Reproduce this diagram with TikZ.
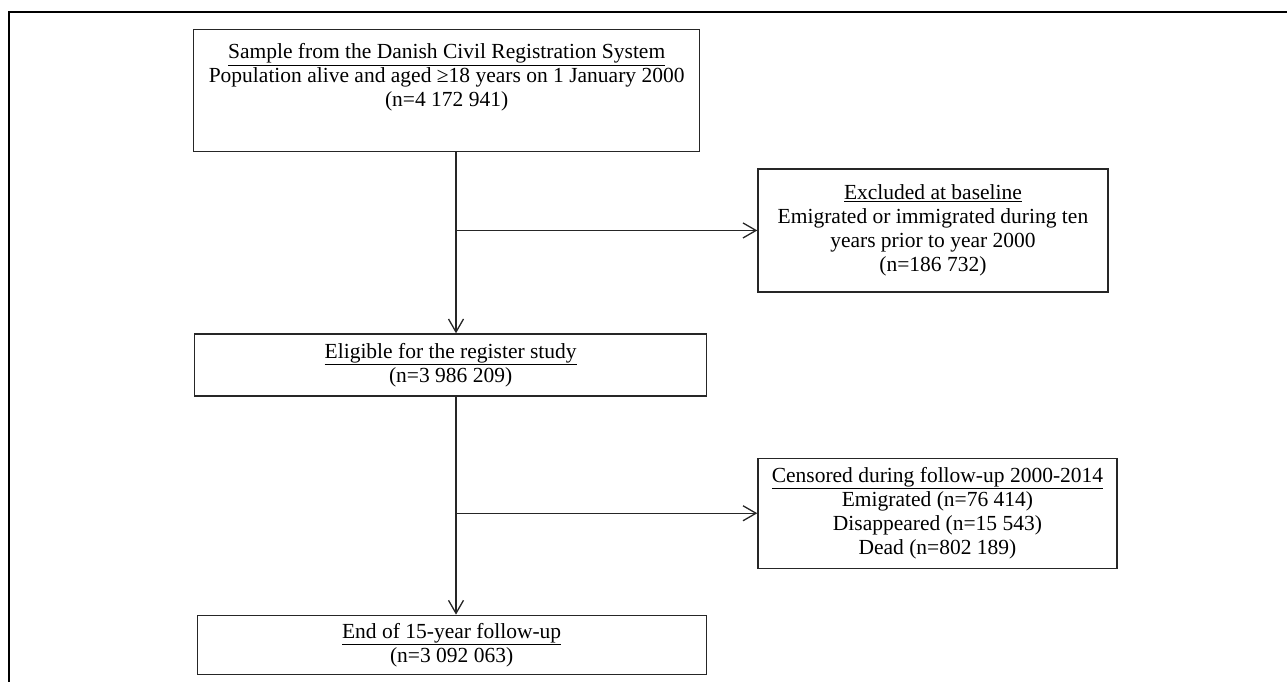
\documentclass[tikz,border=0pt]{standalone}
\usepackage{fontspec}
\setmainfont{Liberation Serif}
\usetikzlibrary{positioning, arrows.meta}
\tikzset{
    box/.style={draw=black!85, line width=1.3pt, rectangle, align=center,
        inner sep=0pt, font=\fontsize{21.5}{24}\selectfont},
    flow/.style={draw=black!85, line width=1.3pt,
        -{Straight Barb[length=13pt,width=15pt]}},
    frame/.style={draw=black, line width=2pt},
}

\begin{document}
\begin{tikzpicture}[x=1pt, y=-1pt]
    \useasboundingbox (0,0) rectangle (1287,682);
    \draw[frame] (9,12) rectangle (1300,700);

    \node[box, anchor=north west, minimum width=506pt, minimum height=122pt] (sample) at (193,29)
        {\parbox[c][94pt][t]{490pt}{\centering
        \underline{Sample from the Danish Civil Registration System}\\
        Population alive and aged ≥18 years on 1 January 2000\\
        (n=4 172 941)}};
    \node[box, below right=16pt and 57pt of sample, minimum width=350pt, minimum height=123pt] (excluded)
        {\underline{Excluded at baseline}\\
        Emigrated or immigrated during ten\\
        years prior to year 2000\\
        (n=186 732)};
    \node[box, below=181pt of sample, xshift=4pt, minimum width=512pt, minimum height=62pt] (eligible)
        {\underline{Eligible for the register study}\\
        (n=3 986 209)};
    \node[box, below right=61pt and 50pt of eligible, minimum width=359pt, minimum height=110pt] (censored)
        {\underline{Censored during follow-up 2000-2014}\\
        Emigrated (n=76 414)\\
        Disappeared (n=15 543)\\
        Dead (n=802 189)};
    \node[box, below=218pt of eligible, xshift=1pt, minimum width=509pt, minimum height=59pt] (endfu)
        {\underline{End of 15-year follow-up}\\
        (n=3 092 063)};

    % main line and exclusions
    \coordinate (spine) at (456,0);
    \draw[flow] (sample.south -| spine) -- (eligible.north -| spine);
    \draw[flow] (spine |- excluded.west) -- (excluded.west);
    \draw[flow] (eligible.south -| spine) -- (endfu.north -| spine);
    \draw[flow] (spine |- censored.west) -- (censored.west);
\end{tikzpicture}
\end{document}
